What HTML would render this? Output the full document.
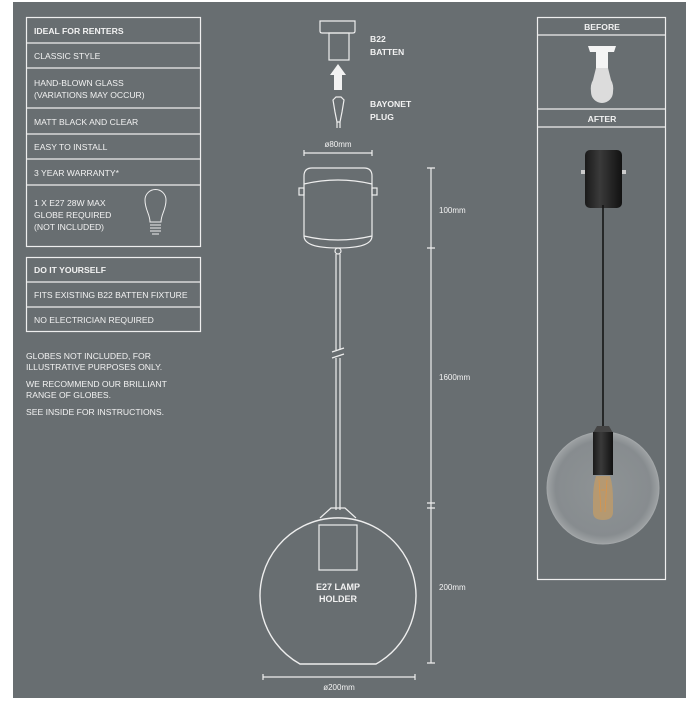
<!DOCTYPE html>
<html><head><style>
body{margin:0;width:700px;height:700px;background:#fff;overflow:hidden;font-family:"Liberation Sans",sans-serif}
svg text{font-family:"Liberation Sans",sans-serif;fill:#f2f2f2}
</style></head><body>
<svg width="700" height="700" viewBox="0 0 700 700" xmlns="http://www.w3.org/2000/svg">
<defs>
<radialGradient id="glob" cx="0.5" cy="0.5" r="0.5">
<stop offset="0" stop-color="#8e9395"/><stop offset="0.85" stop-color="#878c8f"/><stop offset="1" stop-color="#9ea2a4"/>
</radialGradient>
<linearGradient id="blk" x1="0" x2="1"><stop offset="0" stop-color="#1a1a1a"/><stop offset="0.4" stop-color="#3a3a3a"/><stop offset="1" stop-color="#111"/></linearGradient>
</defs>
<rect x="13" y="2" width="673" height="696" fill="#686e71"/>
<g fill="none" stroke="#eeeeee" stroke-width="1.2">
<rect x="26.5" y="17.5" width="174" height="229"/>
<line x1="26" y1="43" x2="201" y2="43"/><line x1="26" y1="68" x2="201" y2="68"/>
<line x1="26" y1="108" x2="201" y2="108"/><line x1="26" y1="134" x2="201" y2="134"/>
<line x1="26" y1="159" x2="201" y2="159"/><line x1="26" y1="185" x2="201" y2="185"/>
<rect x="26.5" y="257.5" width="174" height="74"/>
<line x1="26" y1="282" x2="201" y2="282"/><line x1="26" y1="307" x2="201" y2="307"/>
<!-- small bulb -->
<path d="M150 222 C150 214 145 210 145 200 A10.5 10.5 0 0 1 166 200 C166 210 161 214 161 222 Z" stroke-width="1"/>
<path d="M150 225 H161 M150 228 H161 M150 231 H161 M152 234 H159" stroke-width="1"/>
</g>
<g font-size="8.6">
<text x="34" y="34" font-weight="bold">IDEAL FOR RENTERS</text>
<text x="34" y="59">CLASSIC STYLE</text>
<text x="34" y="86">HAND-BLOWN GLASS</text>
<text x="34" y="98">(VARIATIONS MAY OCCUR)</text>
<text x="34" y="125">MATT BLACK AND CLEAR</text>
<text x="34" y="150">EASY TO INSTALL</text>
<text x="34" y="176">3 YEAR WARRANTY*</text>
<text x="34" y="206">1 X E27 28W MAX</text>
<text x="34" y="218">GLOBE REQUIRED</text>
<text x="34" y="230">(NOT INCLUDED)</text>
<text x="34" y="273" font-weight="bold">DO IT YOURSELF</text>
<text x="34" y="298">FITS EXISTING B22 BATTEN FIXTURE</text>
<text x="34" y="323">NO ELECTRICIAN REQUIRED</text>
<text x="26" y="359">GLOBES NOT INCLUDED, FOR</text>
<text x="26" y="370">ILLUSTRATIVE PURPOSES ONLY.</text>
<text x="26" y="387">WE RECOMMEND OUR BRILLIANT</text>
<text x="26" y="398">RANGE OF GLOBES.</text>
<text x="26" y="415">SEE INSIDE FOR INSTRUCTIONS.</text>
</g>
<!-- center drawing -->
<g fill="none" stroke="#eeeeee" stroke-width="1.2">
<path d="M320 21 H355 V31 Q355 33 353 33 H322 Q320 33 320 31 Z"/>
<rect x="329" y="33" width="20" height="27"/>
<path d="M333 100 L336 97 H341 L344 100 L342 112 L340 122 H337 L335 112 Z"/>
<path d="M337 122 V128 M340 122 V128"/>
<path d="M304 153 H372 M304 150 V156 M372 150 V156"/>
<path d="M304 176 Q304 168 312 168 H364 Q372 168 372 176 V236 Q372 248 338 248 Q304 248 304 236 Z"/>
<path d="M304 184 Q338 176 372 184"/>
<path d="M304 236 Q338 244 372 236"/>
<rect x="299" y="188" width="5" height="7"/><rect x="372" y="188" width="5" height="7"/>
<rect x="335" y="248" width="6" height="6" rx="3"/>
<path d="M336 254 V350 M340 254 V350 M336 358 V510 M340 358 V510"/>
<path d="M332 352 L344 348 M332 358 L344 354"/>
<path d="M320 518 L331 508 H345 L356 518"/>
<path d="M300 664 A78 78 0 1 1 376 664 Z" stroke-width="1.4"/>
<rect x="319" y="525" width="38" height="45"/>
<path d="M431 168 V663 M427 168 H435 M427 248 H435 M427 503 H435 M427 508 H435 M427 663 H435"/>
<path d="M263 677 H415 M263 674 V680 M415 674 V680"/>
</g>
<path d="M338 64 L346 75 H342 V90 H334 V75 H330 Z" fill="#f2f2f2"/>
<g font-size="8.6">
<text x="370" y="42" font-weight="bold">B22</text>
<text x="370" y="55" font-weight="bold">BATTEN</text>
<text x="370" y="107" font-weight="bold">BAYONET</text>
<text x="370" y="120" font-weight="bold">PLUG</text>
<text x="338" y="147" text-anchor="middle" font-size="8">ø80mm</text>
<text x="439" y="213" font-size="8">100mm</text>
<text x="439" y="380" font-size="8">1600mm</text>
<text x="439" y="590" font-size="8">200mm</text>
<text x="338" y="590" text-anchor="middle" font-weight="bold" font-size="9">E27 LAMP</text>
<text x="338" y="602" text-anchor="middle" font-weight="bold" font-size="9">HOLDER</text>
<text x="339" y="690" text-anchor="middle" font-size="8">ø200mm</text>
</g>
<!-- right panel -->
<g fill="none" stroke="#eeeeee" stroke-width="1.2">
<rect x="537.5" y="17.5" width="128" height="562"/>
<line x1="537" y1="35" x2="666" y2="35"/>
<line x1="537" y1="109" x2="666" y2="109"/>
<line x1="537" y1="127" x2="666" y2="127"/>
</g>
<g font-size="8.6" font-weight="bold" text-anchor="middle">
<text x="602" y="30">BEFORE</text>
<text x="602" y="122">AFTER</text>
</g>
<!-- before bulb -->
<path d="M588 46 H616 L614 52 H608 V68 H596 V52 H590 Z" fill="#f4f4f4"/>
<path d="M596 68 H608 L611 80 Q614 85 613 92 A11 11 0 0 1 591 92 Q590 85 593 80 Z" fill="#dcdcdc"/>
<!-- after lamp -->
<rect x="585" y="150" width="37" height="58" rx="5" fill="url(#blk)"/>
<rect x="581" y="170" width="4" height="4" fill="#ccc"/><rect x="622" y="170" width="4" height="4" fill="#ccc"/>
<line x1="603" y1="205" x2="603" y2="428" stroke="#111" stroke-width="1.5"/>
<circle cx="603" cy="488" r="56" fill="url(#glob)" stroke="#a3a7a9" stroke-width="1"/>
<path d="M597 426 H609 L613 433 H593 Z" fill="#444"/>
<rect x="593" y="432" width="20" height="43" fill="url(#blk)"/>
<path d="M596 476 H610 Q613 485 613 500 V512 Q613 520 603 520 Q593 520 593 512 V500 Q593 485 596 476 Z" fill="#b99a6e" opacity="0.9"/>
<path d="M599 480 L601 512 M607 480 L605 512 M601 490 L605 490" stroke="#d9944a" stroke-width="0.8" fill="none"/>
</svg>
</body></html>
